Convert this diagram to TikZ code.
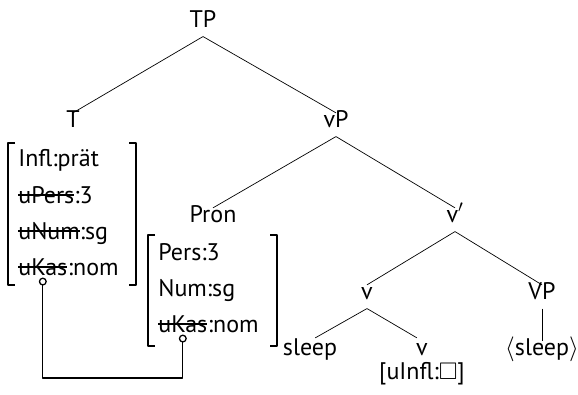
\documentclass[tikz,border=0pt]{standalone}
\usepackage{fontspec}
\usepackage{amssymb}
\setmainfont{PT Sans}
\usetikzlibrary{arrows.meta}
\newcommand\strk[1]{\setbox0\hbox{#1}\rlap{\rule[0.3em]{\wd0}{0.07em}}\box0}
\begin{document}
\begin{tikzpicture}[x=1pt, y=-1pt, line join=round, line width=.7pt, font=\fontsize{24}{28}\selectfont,
    cat/.style={anchor=base, inner xsep=0pt, inner ysep=7pt, text height=.68em, text depth=.22em},
    feat/.style={anchor=base west, inner sep=0pt, text depth=.22em},
    brk/.style={line width=1.2pt},
    link/.style={line width=1.3pt, {Circle[open, length=8pt, fill=white]}-{Circle[open, length=8pt, fill=white]}}]
    \useasboundingbox (0,0) rectangle (578,394);
    % Baum
    \node[cat] (TP) at (203,27) {TP};
    \node[cat] (T) at (73,127) {T};
    \node[cat] (vP) at (336,127) {vP};
    \node[cat] (Pron) at (213,222) {Pron};
    \node[cat] (vbar) at (455,222) {v$'$};
    \node[cat] (v) at (367,299) {v};
    \node[cat] (VP) at (542,299) {VP};
    \node[cat] (sleep) at (310,355) {sleep};
    \node[cat] (v0) at (422,355) {v};
    \node[anchor=base, inner sep=0pt] (infl) at (422,379) {[uInfl:$\square$]};
    \node[cat] (trace) at (542,355) {$\langle$sleep$\rangle$};
    \draw (TP.south) -- (T.north) (TP.south) -- (vP.north);
    \draw (vP.south) -- (Pron.north) (vP.south) -- (vbar.north);
    \draw (vbar.south) -- (v.north) (vbar.south) -- (VP.north);
    \draw[shorten >=6pt] (v.south) -- (sleep.north);
    \draw[shorten >=6pt] (v.south) -- (v0.north);
    \draw (VP.south) -- (trace.north);
    % Merkmale T
    \node[feat] (t1) at (18,166) {Infl:prät};
    \node[feat] (t2) at (18,203) {\strk{uPers}:3};
    \node[feat] (t3) at (18,239) {\strk{uNum}:sg};
    \node[feat] (t4) at (18,275) {\strk{uKas}};
    \node[feat] (t4v) at (t4.base east) {:nom};
    \draw[brk] (15,143) -- (8,143) -- (8,285) -- (15,285)
        (129,143) -- (136,143) -- (136,285) -- (129,285);
    % Merkmale Pron
    \node[feat] (p1) at (158,260) {Pers:3};
    \node[feat] (p2) at (158,296) {Num:sg};
    \node[feat] (p3) at (158,332) {\strk{uKas}};
    \node[feat] (p3v) at (p3.base east) {:nom};
    \draw[brk] (155,235) -- (148,235) -- (148,346) -- (155,346)
        (270,235) -- (277,235) -- (277,346) -- (270,346);
    % Kongruenz
    \coordinate (low) at (0,378);
    \draw[link] (t4.south) -- (t4.south |- low) -| (p3.south);
\end{tikzpicture}
\end{document}
